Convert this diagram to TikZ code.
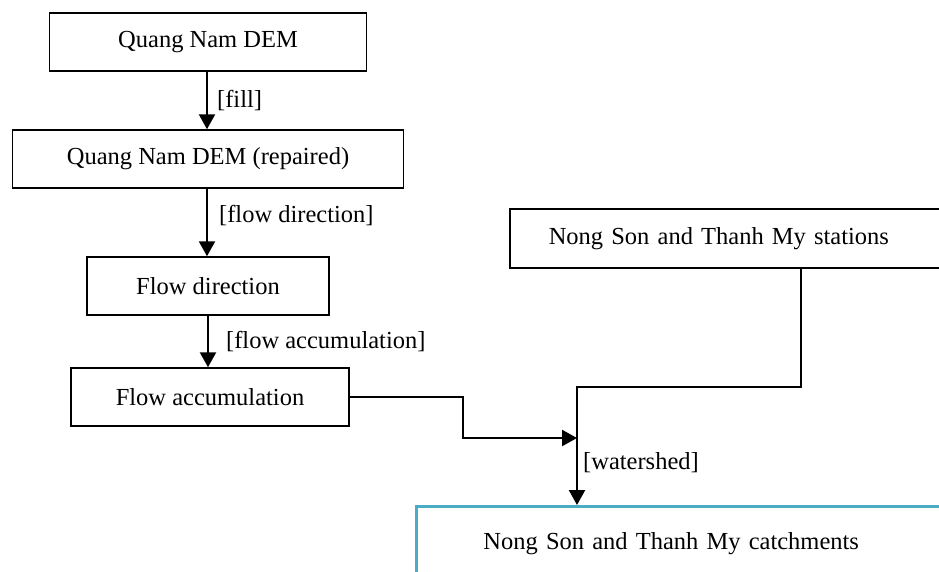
\documentclass[tikz,border=0pt]{standalone}
\usepackage{fontspec}
\setmainfont{Liberation Serif}
\usetikzlibrary{arrows.meta,calc}
\definecolor{accent}{HTML}{4BACC6}
\begin{document}
\begin{tikzpicture}[x=1pt,y=-1pt,
  every node/.style={font=\fontsize{24.5}{28}\selectfont},
  box/.style={draw=black,line width=1.5pt,minimum height=58pt,inner sep=0pt,align=center},
  link/.style={line width=2.3pt,-{Triangle[length=15pt,width=16pt]}},
  lbl/.style={anchor=west,inner sep=0pt}]
\clip (0,0) rectangle (939,571);
\fill[white] (0,0) rectangle (939,571);
\node[box,minimum width=317pt] (b1) at (208,42) {Quang Nam DEM};
\node[box,minimum width=391pt] (b2) at (208,159) {Quang Nam DEM (repaired)};
\node[box,minimum width=242pt] (b3) at (208,286) {Flow direction};
\node[box,minimum width=278pt] (b4) at (210,397) {Flow accumulation};
\node[box,anchor=north west,minimum height=59pt,text width=380pt,align=left,inner xsep=39pt] (st) at (509,208) {Nong Son and Thanh My stations};
\node[draw=accent,line width=2.8pt,anchor=north west,minimum height=74pt,text width=450pt,align=left,inner xsep=67pt,inner ysep=0pt] (ct) at (415,505) {Nong Son and Thanh My catchments};
\coordinate (j) at (577,438);
\draw[link] (b1.south -| 207,0) -- node[lbl,xshift=9pt] {[fill]} (b2.north -| 207,0);
\draw[link] (b2.south -| 207,0) -- node[lbl,xshift=11pt,pos=0.4] {[flow direction]} (b3.north -| 207,0);
\draw[link] (b3.south -| 208,0) -- node[lbl,xshift=17pt] {[flow accumulation]} (b4.north -| 208,0);
\draw[link] (b4.east) -| (463,438) -- (j);
\draw[link] ([xshift=292pt]st.south west) |- (577,387) -- (j) -- node[lbl,xshift=5pt,pos=0.37] {[watershed]} (j |- ct.north);
\end{tikzpicture}
\end{document}
